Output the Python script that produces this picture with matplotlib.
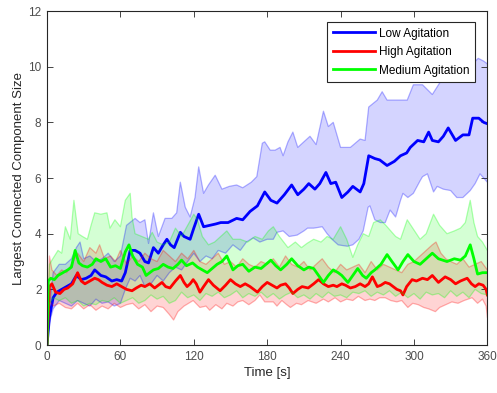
"""Largest connected component size over time for three agitation levels."""

import numpy as np
import matplotlib
matplotlib.use("Agg")
import matplotlib.pyplot as plt

plt.rcParams["font.family"] = ["Liberation Sans", "DejaVu Sans"]

# --- Low agitation (blue) ---
low_t = [0, 2, 5, 8, 12, 16, 20, 24, 28, 32, 36, 39, 44, 48, 53, 57, 61, 64, 68, 72,
         76, 80, 83, 87, 91, 95, 98, 101, 104, 109, 112, 117, 120, 124, 128, 133, 138,
         142, 148, 155, 160, 166, 172, 178, 183, 188, 194, 200, 205, 210, 214, 219, 223,
         228, 232, 236, 241, 246, 250, 256, 259, 263, 268, 272, 278, 284, 289, 294, 297,
         303, 308, 312, 315, 320, 324, 328, 334, 340, 345, 348, 353, 357, 360]
low_mean = [0, 1.0, 1.7, 1.9, 2.0, 2.1, 2.2, 2.5, 2.35, 2.4, 2.5, 2.7, 2.5, 2.45, 2.3,
            2.35, 2.3, 2.6, 3.4, 3.4, 3.3, 3.0, 2.95, 3.5, 3.3, 3.6, 3.8, 3.6, 3.5, 4.05,
            3.9, 3.8, 4.2, 4.7, 4.25, 4.3, 4.35, 4.4, 4.4, 4.55, 4.5, 4.8, 5.0, 5.5, 5.2,
            5.1, 5.4, 5.75, 5.4, 5.6, 5.8, 5.6, 5.8, 6.2, 5.8, 5.85, 5.3, 5.5, 5.7, 5.5,
            5.8, 6.8, 6.7, 6.65, 6.45, 6.6, 6.8, 6.9, 7.1, 7.35, 7.3, 7.65, 7.35, 7.3, 7.5,
            7.8, 7.35, 7.55, 7.55, 8.15, 8.15, 8.0, 7.95]

low_up_t = [0, 2, 5, 10, 15, 20, 24, 27, 30, 35, 40, 45, 50, 55, 60, 65, 72, 76, 80, 83,
            87, 91, 96.5, 102, 106, 109, 113, 117, 121, 124, 128, 132, 137.5, 143, 149,
            155, 160, 167, 171.5, 176, 178, 182.5, 186.5, 190.5, 193, 197, 201, 205, 210,
            215, 220, 226, 230, 234, 240, 248, 256, 260, 263, 270, 274, 278, 286, 294.5,
            299.5, 307, 315, 321.5, 327, 332, 340, 346, 352.5, 357, 360]
low_upper = [0, 1.3, 2.6, 2.9, 2.9, 3.1, 3.5, 3.7, 3.1, 3.2, 3.0, 3.1, 3.3, 3.0, 3.2,
             4.3, 4.55, 4.4, 4.5, 3.65, 4.75, 3.9, 4.55, 4.55, 4.75, 5.85, 4.95, 4.6, 5.3,
             6.4, 5.45, 5.75, 6.1, 5.6, 5.7, 5.75, 5.65, 5.85, 6.05, 7.25, 7.3, 7.0, 7.0,
             7.1, 6.8, 7.3, 7.65, 7.1, 7.3, 7.5, 7.2, 8.4, 7.85, 8.0, 7.1, 7.1, 7.4, 7.35,
             8.55, 8.8, 9.1, 8.8, 8.8, 8.8, 9.35, 9.35, 9.0, 9.45, 9.5, 9.7, 9.8, 10.0,
             10.3, 10.2, 10.1]

low_lo_t = [0, 2, 5, 10, 15, 20, 25, 30, 35, 40, 45, 50, 55, 60, 64, 68, 72, 76, 80, 85,
            90, 95, 100, 105, 110, 115, 120, 125, 130, 135, 140, 146, 152, 158, 163,
            168.5, 174, 180, 185, 188, 193, 198, 204.5, 210, 213, 218, 225, 229, 233, 238,
            245.5, 250, 255, 258.5, 262.5, 264, 268, 272.5, 276.5, 280.5, 285, 289, 291,
            295, 299.5, 305, 307, 311, 316, 319, 324, 330, 335, 340, 346, 350, 354, 357,
            360]
low_lower = [0, 0.8, 1.3, 1.6, 1.5, 1.4, 1.6, 1.5, 1.4, 1.65, 1.5, 1.55, 1.4, 1.5, 2.0,
             2.4, 2.3, 2.5, 2.1, 2.2, 2.5, 2.3, 2.6, 2.8, 2.7, 3.0, 3.3, 3.0, 3.2, 3.1,
             3.4, 3.3, 3.6, 3.4, 3.7, 3.85, 3.7, 3.8, 3.8, 4.05, 4.1, 3.9, 3.95, 4.1, 4.2,
             4.2, 4.25, 4.0, 3.8, 3.6, 3.55, 3.6, 3.8, 4.1, 4.95, 5.0, 4.5, 4.4, 4.4, 4.85,
             4.6, 5.2, 5.45, 5.3, 5.45, 5.9, 6.05, 6.15, 5.5, 5.7, 5.6, 5.55, 5.3, 5.3,
             5.55, 5.8, 6.15, 6.0, 5.85]

# --- High agitation (red) ---
high_t = [0, 2, 4, 7, 10.5, 14, 17, 21, 25, 28, 31, 35, 39, 42, 45, 49, 53, 57, 61, 65,
          69.5, 73, 77, 80, 84, 88, 91, 94, 97, 100.5, 105, 109, 112, 114.5, 117, 119.5,
          122, 125, 128, 132, 136, 141.5, 146, 150, 154, 158, 162, 166, 169, 172, 176,
          180, 184, 188, 191, 195, 198, 201, 205, 208.5, 213.5, 218, 222, 226, 230, 234,
          237, 241, 244, 248, 252, 256, 260, 263, 266, 270, 273, 276.5, 280, 283, 286,
          289, 291, 294, 298.5, 302, 307, 311, 315, 320, 325.5, 330, 334, 338, 343.5,
          347, 350, 353, 356.5, 359, 360]
high_mean = [0, 2.1, 2.2, 1.9, 1.85, 2.0, 2.05, 2.2, 2.6, 2.3, 2.2, 2.3, 2.4, 2.35,
             2.25, 2.15, 2.1, 2.2, 2.1, 2.0, 1.95, 2.05, 2.15, 2.1, 2.2, 2.05, 2.15, 2.25,
             2.1, 2.05, 2.3, 2.5, 2.25, 2.1, 2.2, 2.35, 2.2, 1.9, 2.1, 2.35, 2.15, 1.95,
             2.15, 2.35, 2.2, 2.1, 2.2, 2.1, 2.0, 1.9, 2.1, 2.25, 2.15, 2.05, 2.15, 2.2,
             2.05, 1.85, 2.0, 2.1, 2.05, 2.2, 2.35, 2.2, 2.1, 2.15, 2.1, 2.2, 2.15, 2.05,
             2.1, 2.2, 2.1, 2.2, 2.45, 2.1, 2.15, 2.25, 2.2, 2.1, 2.0, 1.95, 1.8, 2.1,
             2.35, 2.3, 2.4, 2.35, 2.5, 2.25, 2.45, 2.35, 2.2, 2.3, 2.4, 2.2, 2.1, 2.2,
             2.15, 2.0, 1.8]

high_up_t = [0, 2, 4, 8, 12, 16, 20, 25, 30, 35, 40, 43, 47, 52, 56, 60, 65, 70, 75, 80,
             85, 90, 95, 100, 105, 110, 115, 120, 125, 130, 135, 140, 145, 150, 155, 160,
             165, 170, 175, 180, 185, 190, 195, 200, 205, 210, 215, 220, 225, 230, 235,
             240, 245, 250, 255, 260, 265, 270, 275, 280, 285, 290, 295, 300, 305, 310,
             315, 318, 322, 326, 330, 335, 340, 345, 350, 355, 360]
high_upper = [0.3, 3.2, 2.7, 2.5, 2.7, 2.6, 2.9, 3.3, 3.0, 3.5, 3.3, 3.6, 3.1, 3.2, 3.0,
              3.4, 2.9, 3.2, 3.0, 3.3, 3.1, 3.0, 3.4, 3.2, 3.0, 3.3, 3.1, 3.4, 3.0, 2.9,
              3.1, 3.3, 2.9, 3.0, 2.8, 3.1, 2.9, 2.8, 3.0, 2.9, 3.1, 2.8, 3.2, 2.9, 2.8,
              3.0, 2.7, 2.9, 3.1, 2.8, 2.6, 2.9, 2.7, 2.8, 2.9, 2.6, 3.0, 2.7, 2.9, 2.8,
              2.7, 2.6, 2.9, 3.0, 3.2, 3.4, 3.6, 3.7, 3.3, 3.1, 3.0, 2.9, 3.1, 2.8, 2.9,
              3.0, 2.7]

high_lo_t = [0, 2, 5, 10, 15, 20, 25, 30, 35, 40, 45, 50, 55, 60, 65, 70, 75, 80, 85, 90,
             95, 100, 103.5, 107, 112, 119.5, 125, 130, 133, 138, 143, 147, 152, 156, 160,
             165, 170, 174, 178, 185, 188, 192, 196, 199, 204, 208, 213.5, 220, 226, 230,
             235.5, 240, 245, 250, 254.5, 260, 264, 268, 272, 276.5, 281, 286, 290, 295,
             299, 303.5, 308, 312, 317.5, 321, 326, 331, 336, 341, 347.5, 352, 356, 359,
             360]
high_lower = [0, 1.6, 1.4, 1.5, 1.35, 1.3, 1.5, 1.3, 1.45, 1.25, 1.4, 1.3, 1.5, 1.35,
              1.45, 1.5, 1.3, 1.45, 1.2, 1.4, 1.35, 1.1, 0.9, 1.2, 1.4, 1.6, 1.35, 1.4,
              1.25, 1.45, 1.3, 1.5, 1.4, 1.55, 1.6, 1.45, 1.6, 1.8, 1.55, 1.55, 1.4, 1.6,
              1.45, 1.35, 1.5, 1.45, 1.6, 1.5, 1.65, 1.55, 1.7, 1.55, 1.65, 1.6, 1.75, 1.6,
              1.65, 1.6, 1.7, 1.7, 1.6, 1.55, 1.6, 1.35, 1.5, 1.45, 1.35, 1.3, 1.2, 1.35,
              1.45, 1.55, 1.5, 1.6, 1.7, 1.5, 1.65, 1.4, 1.0]

# --- Medium agitation (green) ---
med_t = [0, 1, 3, 6, 9, 13, 17, 20, 23, 26, 29, 33, 37, 40, 44, 48, 52, 56, 60, 64, 67,
         70, 74, 78, 81, 84, 87, 91, 95, 99, 103, 107, 110, 114, 119, 123, 127, 131, 135,
         139, 143, 147, 152, 156, 160, 165, 170, 175, 179, 183, 187, 191, 196, 200, 205,
         210, 214, 218, 222, 226, 230, 234, 238, 241, 246, 250, 254, 258, 261, 265, 268,
         273, 278, 282, 287, 291, 295, 300, 305, 310, 315, 320, 327, 333, 338, 342, 346,
         349, 352, 356, 360]
med_mean = [0, 2.3, 2.4, 2.35, 2.5, 2.6, 2.7, 2.8, 3.4, 2.95, 2.85, 2.8, 2.9, 3.1, 3.0,
            3.1, 2.8, 2.85, 2.75, 3.35, 3.6, 3.2, 2.9, 2.8, 2.5, 2.6, 2.7, 2.75, 2.9, 2.8,
            2.75, 2.9, 3.05, 2.85, 2.95, 2.8, 2.7, 2.6, 2.75, 2.9, 3.0, 3.2, 2.7, 2.85,
            2.9, 2.65, 2.8, 2.75, 2.9, 3.05, 2.85, 2.7, 2.9, 3.1, 2.85, 2.7, 2.8, 2.75, 2.5,
            2.25, 2.5, 2.7, 2.6, 2.5, 2.25, 2.5, 2.75, 2.5, 2.4, 2.6, 2.7, 2.9, 3.25, 3.0,
            2.7, 3.0, 3.25, 3.0, 2.9, 3.1, 3.3, 3.1, 3.0, 3.1, 3.05, 3.2, 3.6, 3.1, 2.55,
            2.6, 2.6]

med_up_t = [0, 2, 4, 9, 12, 15, 19, 22, 25.5, 29, 33, 36, 39, 44, 49, 51.5, 55.5, 60, 64,
            68, 69.5, 72, 77.5, 83, 86, 90, 95, 100, 105, 110, 115, 120, 123, 127, 132,
            137, 142, 147, 152, 158, 164, 170, 176, 181, 185, 190, 197, 203, 208, 212.5,
            218, 224, 229, 234, 240, 245, 250, 254, 258.5, 263, 267, 272.5, 277, 281, 285,
            289, 294.5, 299, 305, 310, 316, 321, 327, 333, 338, 342, 346, 349, 352, 356,
            360]
med_upper = [0.5, 2.9, 3.05, 3.4, 3.3, 4.25, 3.8, 5.2, 4.0, 3.9, 3.8, 4.3, 4.75, 4.7,
             4.75, 4.2, 4.5, 4.25, 5.2, 5.45, 4.6, 4.0, 3.9, 3.8, 4.05, 3.7, 3.6, 3.7, 4.2,
             3.9, 4.3, 4.7, 4.5, 3.9, 3.6, 3.7, 3.9, 4.1, 3.8, 3.8, 3.7, 3.9, 3.8, 4.1,
             4.25, 3.9, 3.5, 3.7, 3.5, 3.65, 3.8, 3.7, 3.9, 3.8, 4.25, 3.8, 3.15, 3.6, 4.0,
             3.9, 4.4, 4.5, 4.3, 4.1, 3.9, 3.8, 4.5, 4.2, 3.8, 4.0, 4.7, 4.3, 4.0, 4.1,
             4.2, 4.4, 5.2, 4.4, 3.9, 3.7, 3.4]

med_lo_t = list(range(0, 361, 5))
med_lo_t.insert(1, 2)
med_lower = [0, 1.5, 1.7, 1.6, 1.7, 1.5, 1.6, 1.4, 1.5, 1.45, 1.6, 1.55, 1.7, 1.5, 1.6,
             1.7, 1.5, 1.6, 1.8, 1.65, 1.75, 1.5, 1.6, 1.9, 1.7, 1.8, 1.6, 1.85, 1.75, 1.9,
             1.7, 1.8, 1.95, 1.7, 1.85, 1.75, 1.9, 1.7, 1.85, 1.65, 1.8, 1.9, 1.7, 1.8,
             1.65, 1.85, 1.7, 1.9, 1.75, 1.8, 1.7, 1.9, 1.85, 1.95, 1.75, 1.9, 1.8, 1.95,
             1.75, 1.9, 1.7, 1.85, 1.65, 1.9, 1.8, 1.85, 1.7, 1.95, 1.75, 1.9, 1.7, 2.0,
             1.85, 1.8]

SERIES = [
    ("Low Agitation", "#0000ff", low_t, low_mean, low_up_t, low_upper, low_lo_t, low_lower),
    ("High Agitation", "#ff0000", high_t, high_mean, high_up_t, high_upper, high_lo_t, high_lower),
    ("Medium Agitation", "#00ff00", med_t, med_mean, med_up_t, med_upper, med_lo_t, med_lower),
]

fig = plt.figure(figsize=(4.97, 3.93), dpi=100)
ax = fig.add_axes([0.0946, 0.122, 0.886, 0.85])

handles = []
for label, color, t, mean, ut, up, lt, lo in SERIES:
    poly_x = np.concatenate([ut, lt[::-1]])
    poly_y = np.concatenate([up, lo[::-1]])
    ax.fill(poly_x, poly_y, color=color, alpha=0.17, linewidth=0)
    ax.plot(ut, up, color=color, alpha=0.3, linewidth=0.9)
    ax.plot(lt, lo, color=color, alpha=0.3, linewidth=0.9)
    h, = ax.plot(t, mean, color=color, linewidth=2.0, label=label)
    handles.append(h)

ax.set_xlim(0, 360)
ax.set_ylim(0, 12)
ax.set_xticks(np.arange(0, 361, 60))
ax.set_yticks(np.arange(0, 13, 2))
ax.tick_params(direction="in", top=True, right=True, length=4, width=0.6,
               labelsize=8.5, colors="#262626", labelcolor="#4d4d4d", pad=4)
for sp in ax.spines.values():
    sp.set_color("#262626")
    sp.set_linewidth(0.8)

ax.set_xlabel("Time [s]", fontsize=9.5, color="#262626", labelpad=3)
ax.set_ylabel("Largest Connected Component Size", fontsize=9.5, color="#262626", labelpad=2)

leg = ax.legend(handles=handles, loc="upper right", bbox_to_anchor=(0.972, 0.968),
                fontsize=8.5, handlelength=3.6, handletextpad=0.3, borderpad=0.5,
                labelspacing=0.55, fancybox=False, framealpha=1, borderaxespad=0)
leg.get_frame().set_edgecolor("#262626")
leg.get_frame().set_linewidth(0.8)

plt.savefig("out.png", dpi=100)
